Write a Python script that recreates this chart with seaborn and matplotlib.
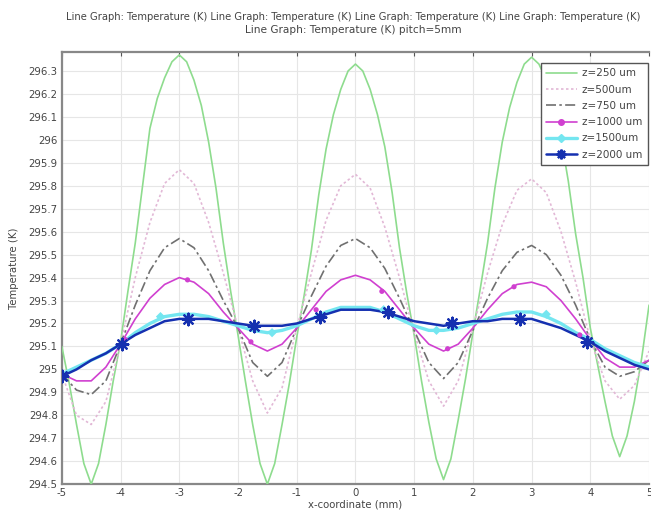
import numpy as np
import pandas as pd
import matplotlib
matplotlib.use("Agg")
import matplotlib.pyplot as plt
from matplotlib.lines import Line2D
import seaborn as sns

# x positions for the fine-sampled z=250 um curve (mm)
x_fine = [-5.000, -4.875, -4.750, -4.625, -4.500, -4.375, -4.250, -4.125, -4.000, -3.875,
          -3.750, -3.625, -3.500, -3.375, -3.250, -3.125, -3.000, -2.875, -2.750, -2.625,
          -2.500, -2.375, -2.250, -2.125, -2.000, -1.875, -1.750, -1.625, -1.500, -1.375,
          -1.250, -1.125, -1.000, -0.875, -0.750, -0.625, -0.500, -0.375, -0.250, -0.125,
          0.000, 0.125, 0.250, 0.375, 0.500, 0.625, 0.750, 0.875, 1.000, 1.125,
          1.250, 1.375, 1.500, 1.625, 1.750, 1.875, 2.000, 2.125, 2.250, 2.375,
          2.500, 2.625, 2.750, 2.875, 3.000, 3.125, 3.250, 3.375, 3.500, 3.625,
          3.750, 3.875, 4.000, 4.125, 4.250, 4.375, 4.500, 4.625, 4.750, 4.875, 5.000]
t_250 = [295.10, 294.94, 294.76, 294.59, 294.50, 294.59, 294.76, 294.95, 295.12, 295.34,
         295.55, 295.80, 296.05, 296.18, 296.27, 296.34, 296.37, 296.34, 296.26, 296.15,
         295.99, 295.79, 295.55, 295.34, 295.15, 294.95, 294.76, 294.59, 294.50, 294.59,
         294.76, 294.94, 295.14, 295.32, 295.52, 295.76, 295.96, 296.11, 296.22, 296.30,
         296.33, 296.30, 296.22, 296.11, 295.97, 295.77, 295.53, 295.33, 295.15, 294.95,
         294.77, 294.61, 294.52, 294.61, 294.78, 294.96, 295.16, 295.35, 295.55, 295.79,
         295.99, 296.14, 296.25, 296.33, 296.36, 296.33, 296.26, 296.15, 296.01, 295.82,
         295.59, 295.40, 295.18, 295.02, 294.86, 294.71, 294.62, 294.71, 294.86, 295.05, 295.28]

# x positions for the other curves (mm)
x_mm = [-5.00, -4.75, -4.50, -4.25, -4.00, -3.75, -3.50, -3.25, -3.00, -2.75,
        -2.50, -2.25, -2.00, -1.75, -1.50, -1.25, -1.00, -0.75, -0.50, -0.25,
        0.00, 0.25, 0.50, 0.75, 1.00, 1.25, 1.50, 1.75, 2.00, 2.25,
        2.50, 2.75, 3.00, 3.25, 3.50, 3.75, 4.00, 4.25, 4.50, 4.75, 5.00]
t_500 = [294.98, 294.80, 294.76, 294.86, 295.11, 295.40, 295.64, 295.81, 295.87, 295.81,
         295.64, 295.42, 295.18, 294.95, 294.81, 294.92, 295.18, 295.42, 295.65, 295.80,
         295.85, 295.79, 295.62, 295.40, 295.16, 294.95, 294.84, 294.95, 295.18, 295.42,
         295.63, 295.78, 295.83, 295.77, 295.60, 295.38, 295.13, 294.95, 294.87, 294.93, 295.08]
t_750 = [294.98, 294.91, 294.89, 294.95, 295.11, 295.28, 295.43, 295.53, 295.57, 295.53,
         295.43, 295.30, 295.18, 295.03, 294.97, 295.03, 295.18, 295.32, 295.45, 295.54,
         295.57, 295.53, 295.44, 295.31, 295.17, 295.03, 294.96, 295.03, 295.17, 295.31,
         295.43, 295.51, 295.54, 295.50, 295.41, 295.28, 295.13, 295.01, 294.97, 294.99, 295.04]
t_1000 = [294.98, 294.95, 294.95, 295.01, 295.11, 295.22, 295.31, 295.37, 295.40, 295.38,
          295.33, 295.25, 295.18, 295.11, 295.08, 295.11, 295.18, 295.26, 295.34, 295.39,
          295.41, 295.39, 295.34, 295.26, 295.18, 295.11, 295.08, 295.11, 295.18, 295.26,
          295.33, 295.37, 295.38, 295.36, 295.30, 295.22, 295.13, 295.05, 295.01, 295.01, 295.04]
t_1500 = [294.98, 295.01, 295.04, 295.07, 295.11, 295.16, 295.20, 295.23, 295.24, 295.24,
          295.23, 295.21, 295.19, 295.17, 295.16, 295.17, 295.19, 295.22, 295.25, 295.27,
          295.27, 295.27, 295.25, 295.22, 295.19, 295.17, 295.17, 295.18, 295.20, 295.22,
          295.24, 295.25, 295.25, 295.23, 295.20, 295.16, 295.13, 295.09, 295.06, 295.03, 295.01]
t_2000 = [294.97, 295.00, 295.04, 295.07, 295.11, 295.15, 295.18, 295.21, 295.22, 295.22,
          295.22, 295.21, 295.20, 295.19, 295.19, 295.19, 295.20, 295.22, 295.24, 295.26,
          295.26, 295.26, 295.25, 295.23, 295.21, 295.20, 295.19, 295.20, 295.21, 295.21,
          295.22, 295.22, 295.22, 295.20, 295.18, 295.15, 295.12, 295.08, 295.05, 295.02, 295.00]

# sparse marker positions
mk_1000_x = [-3.92, -2.86, -1.78, -0.67, 0.45, 1.57, 2.70, 3.82]
mk_1000_y = [295.13, 295.39, 295.12, 295.26, 295.34, 295.09, 295.36, 295.15]
mk_1500_x = [-3.32, -1.42, 0.48, 1.38, 3.25]
mk_1500_y = [295.23, 295.16, 295.26, 295.17, 295.24]
mk_2000_x = [-5.00, -3.97, -2.86, -1.72, -0.60, 0.55, 1.65, 2.80, 3.95]
mk_2000_y = [294.97, 295.11, 295.22, 295.19, 295.23, 295.25, 295.20, 295.22, 295.12]

labels = ["z=250 um", "z=500um", "z=750 um", "z=1000 um", "z=1500um", "z=2000 um"]
title_l1 = ("Line Graph: Temperature (K) Line Graph: Temperature (K) Line Graph: Temperature (K)"
            " Line Graph: Temperature (K)")
title_l2 = "Line Graph: Temperature (K) pitch=5mm"
x_ticks = [-5, -4, -3, -2, -1, 0, 1, 2, 3, 4, 5]
y_ticks = [294.5, 294.6, 294.7, 294.8, 294.9, 295.0, 295.1, 295.2, 295.3, 295.4,
           295.5, 295.6, 295.7, 295.8, 295.9, 296.0, 296.1, 296.2, 296.3]
y_tick_labels = ["294.5", "294.6", "294.7", "294.8", "294.9", "295", "295.1", "295.2", "295.3",
                 "295.4", "295.5", "295.6", "295.7", "295.8", "295.9", "296", "296.1", "296.2", "296.3"]

sns.set_style("white")
plt.rcParams["font.family"] = ["DejaVu Sans"]

fig = plt.figure(figsize=(6.51, 5.14), dpi=100)
ax = fig.add_axes([0.095, 0.058, 0.902, 0.841])

C250, C500, C750 = "#8edc8e", "#e2b8d6", "#707070"
C1000, C1500, C2000 = "#d040d0", "#74e6f0", "#1530b0"
LS500 = (0, (1.5, 1.5))
LS750 = (0, (6, 2, 1.5, 2))

sns.lineplot(x=x_fine, y=t_250, ax=ax, color=C250, linewidth=1.2, legend=False, zorder=3)
series = [
    (t_500, C500, LS500, 1.2),
    (t_750, C750, LS750, 1.2),
    (t_1000, C1000, "-", 1.2),
    (t_1500, C1500, "-", 2.4),
    (t_2000, C2000, "-", 1.8),
]
for vals, col, ls, lw in series:
    df = pd.DataFrame({"x": x_mm, "T": vals})
    sns.lineplot(data=df, x="x", y="T", ax=ax, color=col, linestyle=ls, linewidth=lw,
                 legend=False, zorder=3)

sns.scatterplot(x=mk_1000_x, y=mk_1000_y, ax=ax, color=C1000, marker="o", s=14,
                edgecolor="none", zorder=4, legend=False)
sns.scatterplot(x=mk_1500_x, y=mk_1500_y, ax=ax, color=C1500, marker="D", s=22,
                edgecolor="none", zorder=4, legend=False)
sns.scatterplot(x=mk_2000_x, y=mk_2000_y, ax=ax, color=C2000, marker=(8, 2, 0), s=70,
                edgecolor=C2000, linewidth=1.6, zorder=5, legend=False)

ax.set_xlim(-5, 5)
ax.set_ylim(294.5, 296.383)
ax.set_xticks(x_ticks)
ax.set_xticklabels([str(t) for t in x_ticks])
ax.set_yticks(y_ticks)
ax.set_yticklabels(y_tick_labels)
ax.grid(True, color="#e6e6e6", linewidth=0.8, zorder=0)
ax.tick_params(axis="both", direction="in", length=3, width=0.8, colors="#555555",
               labelsize=7.3, labelcolor="#444444", pad=3)
ax.tick_params(top=True, right=False)
for side in ["left", "bottom", "top"]:
    ax.spines[side].set_color("#888888")
    ax.spines[side].set_linewidth(1.6)
ax.spines["right"].set_visible(False)

ax.set_xlabel("x-coordinate (mm)", fontsize=7.3, color="#444444", labelpad=1)
ax.set_ylabel("Temperature (K)", fontsize=7.3, color="#444444", labelpad=7)
fig.text(0.543, 0.966, title_l1, ha="center", va="center", fontsize=7.2, color="#444444")
fig.text(0.543, 0.941, title_l2, ha="center", va="center", fontsize=7.6, color="#444444")

handles = [
    Line2D([], [], color=C250, lw=1.2),
    Line2D([], [], color=C500, lw=1.2, linestyle=LS500),
    Line2D([], [], color=C750, lw=1.2, linestyle=LS750),
    Line2D([], [], color=C1000, lw=1.2, marker="o", markersize=4),
    Line2D([], [], color=C1500, lw=2.4, marker="D", markersize=4),
    Line2D([], [], color=C2000, lw=1.8, marker=(8, 2, 0), markersize=7, markeredgewidth=1.6),
]
leg = ax.legend(handles, labels, loc="upper right", bbox_to_anchor=(0.998, 0.975),
                borderaxespad=0, fontsize=7.5, frameon=True, fancybox=False, handlelength=2.9,
                labelspacing=0.6, borderpad=0.55, handletextpad=0.5)
leg.get_frame().set_edgecolor("#555555")
leg.get_frame().set_linewidth(1.0)
leg.get_frame().set_alpha(1.0)
for t in leg.get_texts():
    t.set_color("#444444")

fig.savefig("out.png", dpi=100)
